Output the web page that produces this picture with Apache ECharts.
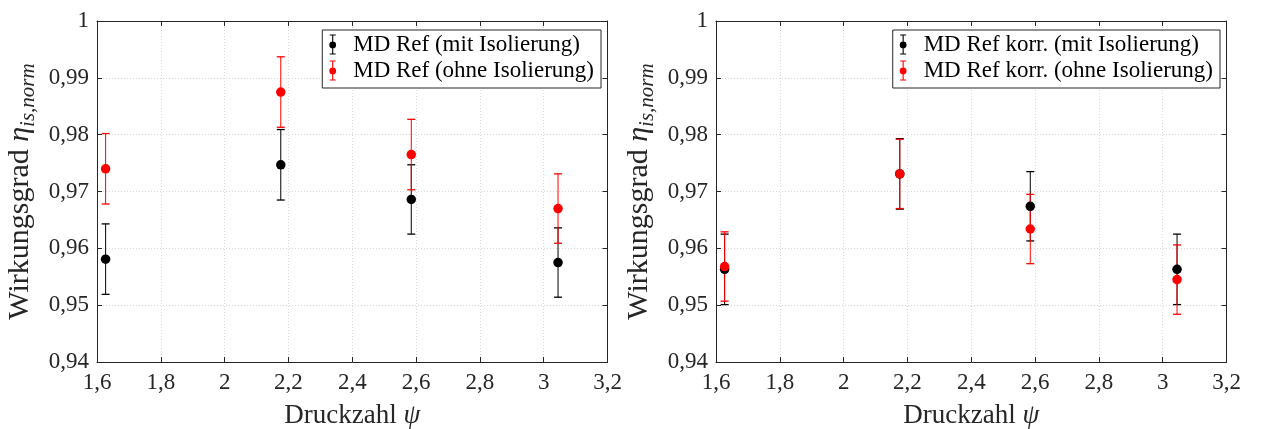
<!DOCTYPE html>
<html>
<head>
<meta charset="utf-8">
<script src="https://cdn.jsdelivr.net/npm/echarts@6/dist/echarts.min.js"></script>
<style>
  html, body { margin: 0; padding: 0; background: #fff; }
  #chart { width: 1265px; height: 429px; }
</style>
</head>
<body>
<div id="chart"></div>
<script>
// Druckzahl (pressure number) of the four operating points
const psi = [1.627, 2.176, 2.585, 3.045];

// Left panel: MD Ref
const refMitMean  = [0.9581, 0.9747, 0.9686, 0.9575];
const refMitErr   = [0.0062, 0.0062, 0.0061, 0.0061];
const refOhneMean = [0.9740, 0.9875, 0.9765, 0.9670];
const refOhneErr  = [0.0062, 0.0062, 0.0062, 0.0061];

// Right panel: MD Ref korr.
const korrMitMean  = [0.9563, 0.9731, 0.9674, 0.9563];
const korrMitErr   = [0.0062, 0.0062, 0.0061, 0.0062];
const korrOhneMean = [0.9568, 0.9731, 0.9634, 0.9545];
const korrOhneErr  = [0.0061, 0.0061, 0.0061, 0.0061];

const seriesNames = [
  ['MD Ref (mit Isolierung)', 'MD Ref (ohne Isolierung)'],
  ['MD Ref korr. (mit Isolierung)', 'MD Ref korr. (ohne Isolierung)']
];

const FONT = 'Liberation Serif';
const AXIS_COLOR = '#262626';
const BLACK = '#000000';
const RED = '#ff0000';

// error-bar glyph used as legend icon: caps, stem and a dot
const errIcon = 'path://M2,0H8V1.1H5.55V18.9H8V20H2V18.9H4.45V1.1H2Z' +
  'M5,7.0A3.4,3.4,0,1,1,4.99,7.0Z';

const fmt = v => String(+v.toFixed(2)).replace('.', ',');

function errorBarItem(params, api) {
  const x = api.value(0);
  const top = api.coord([x, api.value(2)]);
  const bot = api.coord([x, api.value(1)]);
  const cap = 4;
  const color = api.visual('color');
  return {
    type: 'group',
    children: [
      { type: 'line', shape: { x1: top[0], y1: top[1], x2: bot[0], y2: bot[1] }, style: { stroke: color, lineWidth: 1 } },
      { type: 'line', shape: { x1: top[0] - cap, y1: top[1], x2: top[0] + cap, y2: top[1] }, style: { stroke: color, lineWidth: 1.3 } },
      { type: 'line', shape: { x1: bot[0] - cap, y1: bot[1], x2: bot[0] + cap, y2: bot[1] }, style: { stroke: color, lineWidth: 1.3 } }
    ]
  };
}

function errSeries(name, idx, mean, err, color) {
  return {
    name: name,
    type: 'custom',
    xAxisIndex: idx * 2,
    yAxisIndex: idx * 2,
    renderItem: errorBarItem,
    itemStyle: { color: color },
    encode: { x: 0, y: [1, 2] },
    data: psi.map((x, i) => [x, mean[i] - err[i], mean[i] + err[i]]),
    silent: true
  };
}

function dotSeries(name, idx, mean, color) {
  return {
    name: name,
    type: 'scatter',
    xAxisIndex: idx * 2,
    yAxisIndex: idx * 2,
    symbol: 'circle',
    symbolSize: 9.5,
    itemStyle: { color: color, opacity: 1 },
    data: psi.map((x, i) => [x, mean[i]]),
    silent: true
  };
}

const grids = [
  { left: 97, right: 1265 - 607.5, top: 21, bottom: 429 - 362, outerBoundsMode: 'none', containLabel: false },
  { left: 716, right: 1265 - 1226.5, top: 21, bottom: 429 - 362, outerBoundsMode: 'none', containLabel: false }
];

const tickStyle = { show: true, inside: true, length: 5, lineStyle: { color: AXIS_COLOR } };
const lineStyle = { show: true, lineStyle: { color: AXIS_COLOR, width: 1 } };
const gridLines = { show: true, lineStyle: { type: [1, 2], color: '#d8d8d8', width: 1 } };

// per grid: bottom + top x axis, left + right y axis (the second ones only draw the frame)
const xAxes = [], yAxes = [];
grids.forEach((g, i) => {
  xAxes.push({
    type: 'value', gridIndex: i, min: 1.6, max: 3.2, interval: 0.2,
    axisLine: lineStyle, axisTick: tickStyle, splitLine: gridLines,
    axisLabel: { formatter: fmt, fontFamily: FONT, fontSize: 23, color: AXIS_COLOR, margin: 9 },
    name: 'Druckzahl {i|ψ}',
    nameLocation: 'middle',
    nameGap: 40,
    nameTextStyle: {
      fontFamily: FONT, fontSize: 27, color: AXIS_COLOR,
      rich: { i: { fontFamily: FONT, fontSize: 27, fontStyle: 'italic', color: AXIS_COLOR } }
    }
  });
  xAxes.push({
    type: 'value', gridIndex: i, position: 'top', min: 1.6, max: 3.2, interval: 0.2,
    axisLine: lineStyle, axisTick: tickStyle,
    axisLabel: { show: false }, splitLine: { show: false }
  });
  yAxes.push({
    type: 'value', gridIndex: i, min: 0.94, max: 1.0, interval: 0.01,
    axisLine: lineStyle, axisTick: tickStyle, splitLine: gridLines,
    axisLabel: { formatter: fmt, fontFamily: FONT, fontSize: 23, color: AXIS_COLOR, margin: 8 },
    name: '{t|Wirkungsgrad }{e|η}{s|is,norm}',
    nameLocation: 'middle',
    nameRotate: 90,
    nameGap: 58,
    nameTextStyle: {
      rich: {
        t: { fontFamily: FONT, fontSize: 30, color: AXIS_COLOR, lineHeight: 38 },
        e: { fontFamily: FONT, fontSize: 30, fontStyle: 'italic', color: AXIS_COLOR, lineHeight: 38 },
        s: { fontFamily: FONT, fontSize: 21, fontStyle: 'italic', color: AXIS_COLOR, lineHeight: 21, verticalAlign: 'bottom' }
      }
    }
  });
  yAxes.push({
    type: 'value', gridIndex: i, position: 'right', min: 0.94, max: 1.0, interval: 0.01,
    axisLine: lineStyle, axisTick: tickStyle,
    axisLabel: { show: false }, splitLine: { show: false }
  });
});

const series = [
  errSeries(seriesNames[0][0], 0, refMitMean, refMitErr, BLACK),
  dotSeries(seriesNames[0][0], 0, refMitMean, BLACK),
  errSeries(seriesNames[0][1], 0, refOhneMean, refOhneErr, RED),
  dotSeries(seriesNames[0][1], 0, refOhneMean, RED),
  errSeries(seriesNames[1][0], 1, korrMitMean, korrMitErr, BLACK),
  dotSeries(seriesNames[1][0], 1, korrMitMean, BLACK),
  errSeries(seriesNames[1][1], 1, korrOhneMean, korrOhneErr, RED),
  dotSeries(seriesNames[1][1], 1, korrOhneMean, RED)
];

function legendFor(names, right) {
  return {
    orient: 'vertical',
    right: right,
    top: 30,
    padding: [3, 7, 6, 7],
    itemGap: 3,
    itemWidth: 31,
    itemHeight: 20,
    borderColor: AXIS_COLOR,
    borderWidth: 1,
    borderRadius: 0,
    backgroundColor: '#ffffff',
    selectedMode: false,
    textStyle: { fontFamily: FONT, fontSize: 23, lineHeight: 23, color: '#000' },
    data: names.map(n => ({ name: n, icon: errIcon }))
  };
}

const option = {
  animation: false,
  backgroundColor: '#ffffff',
  grid: grids,
  xAxis: xAxes,
  yAxis: yAxes,
  legend: [legendFor(seriesNames[0], 1265 - 601), legendFor(seriesNames[1], 1265 - 1220)],
  series: series
};

const chart = echarts.init(document.getElementById('chart'), null, { renderer: 'canvas' });
chart.setOption(option);
</script>
</body>
</html>
